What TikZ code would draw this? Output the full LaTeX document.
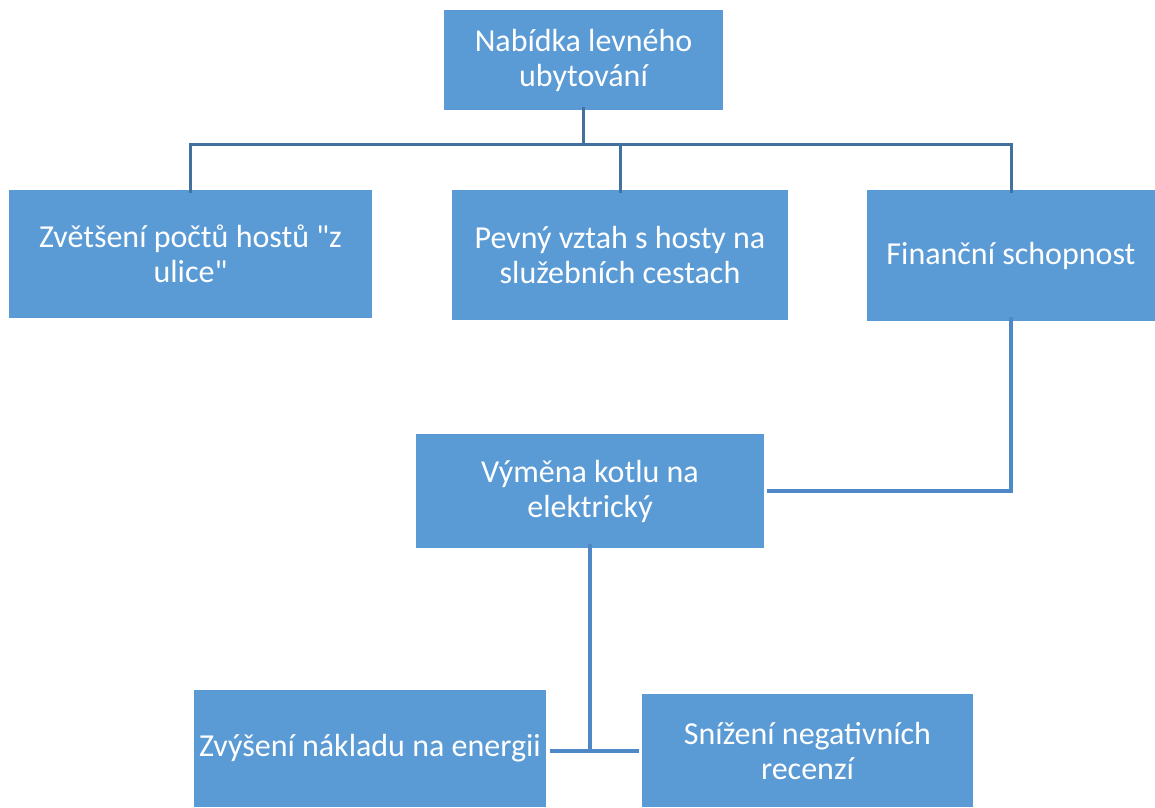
\documentclass[tikz,border=0pt]{standalone}
\usepackage{fontspec}
\setmainfont{Carlito}[Ligatures=TeXOff]
\usetikzlibrary{calc}
\definecolor{boxblue}{HTML}{5B9BD5}
\definecolor{linkdark}{HTML}{41719C}
\definecolor{linkmid}{HTML}{4F88C6}
\tikzset{
  box/.style={rectangle, fill=boxblue, text=white, align=center, inner sep=0pt,
    font=\fontsize{32}{35}\selectfont},
  toplink/.style={draw=linkdark, line width=3pt},
  lowlink/.style={draw=linkmid, line width=3.5pt}
}
\begin{document}
\begin{tikzpicture}[x=1pt,y=-1pt]
\useasboundingbox (0,0) rectangle (1155,807);

% boxes
\node[box, minimum width=279pt, minimum height=100pt] (top) at (583.5,60) {Nabídka levného\\ubytování};
\node[box, minimum width=363pt, minimum height=128pt] (a) at (190.5,254) {Zvětšení počtů hostů "z\\ulice"};
\node[box, minimum width=336pt, minimum height=130pt] (b) at (620,255) {Pevný vztah s hosty na\\služebních cestach};
\node[box, minimum width=288pt, minimum height=131pt] (c) at (1011,255.5) {Finanční schopnost};
\node[box, minimum width=348pt, minimum height=114pt] (d) at (590,491) {Výměna kotlu na\\elektrický};
\node[box, minimum width=352pt, minimum height=117pt] (e) at (370,748.5) {Zvýšení nákladu na energii};
\node[box, minimum width=331pt, minimum height=113pt] (f) at (807.5,750.5) {Snížení negativních\\recenzí};

% upper tree
\draw[toplink] ([yshift=3]top.south) -- ++(0,37) coordinate (bus);
\draw[toplink] ([yshift=-3]a.north) |- (bus) -| ([yshift=-3]c.north);
\draw[toplink] ([yshift=-3]b.north) -- (b.north |- bus);

% financial link to the boiler
\draw[lowlink] ([yshift=4]c.south) |- ([xshift=3]d.east);

% lower tree
\coordinate (j) at ($(d.south)+(0,203)$);
\draw[lowlink] ([yshift=4]d.south) -- (j);
\draw[lowlink] ([xshift=4]e.east |- j) -- ([xshift=-3]f.west |- j);
\end{tikzpicture}
\end{document}
